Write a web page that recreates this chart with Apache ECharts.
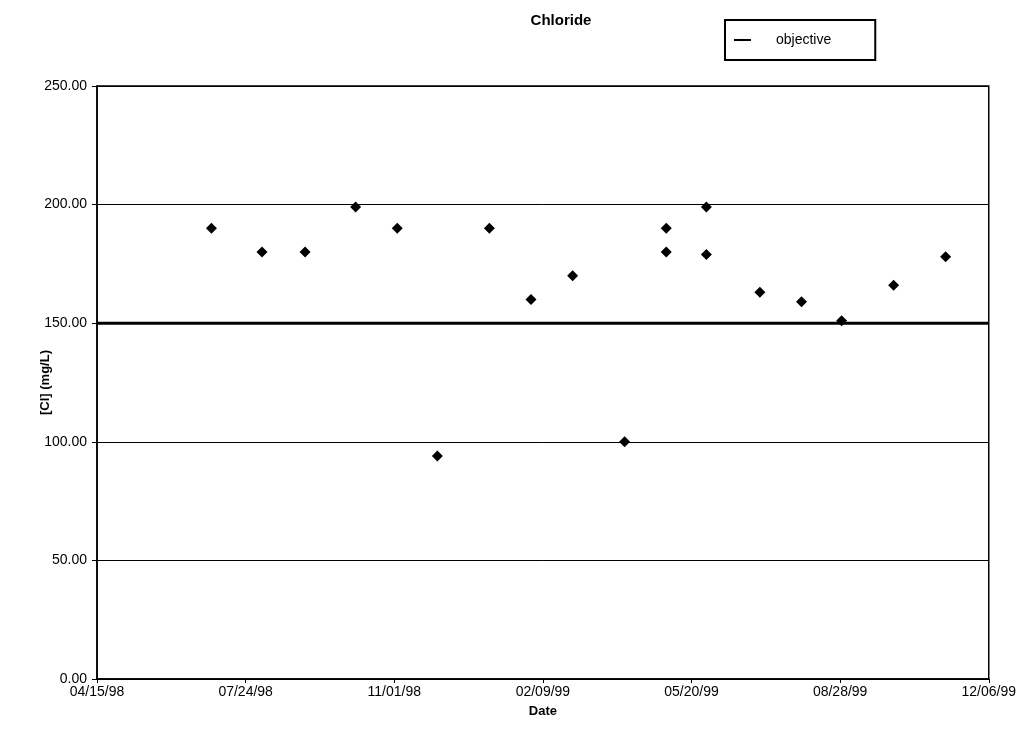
<!DOCTYPE html>
<html>
<head>
<meta charset="utf-8">
<title>Chloride</title>
<script src="https://cdn.jsdelivr.net/npm/echarts@6/dist/echarts.min.js"></script>
<style>
  html, body { margin: 0; padding: 0; background: #fff; }
  #chart { width: 1019px; height: 741px; }
</style>
</head>
<body>
<div id="chart"></div>
<script>
// Sampling dates (MM/DD/YY) and measured chloride concentrations (mg/L)
const sampleDates = [
  '07/01/98', '08/04/98', '09/02/98', '10/06/98', '11/03/98', '11/30/98',
  '01/04/99', '02/01/99', '03/01/99', '04/05/99', '05/03/99', '05/03/99',
  '05/30/99', '05/30/99', '07/05/99', '08/02/99', '08/29/99', '10/03/99',
  '11/07/99'
];
const chlorideValues = [
  190, 180, 180, 199, 190, 94,
  190, 160, 170, 100, 190, 180,
  199, 179, 163, 159, 151, 166,
  178
];

// Water-quality objective (mg/L)
const objectiveValue = 150;

// X axis: days counted from the first tick date, ticks every 100 days
const axisStartDate = '04/15/98';
const axisSpanDays = 600;
const tickStepDays = 100;

// Y axis range
const yMin = 0;
const yMax = 250;
const yStep = 50;

const DAY_MS = 86400000;
function parseDate(s) {
  const [m, d, y] = s.split('/').map(Number);
  return Date.UTC(1900 + (y < 50 ? y + 100 : y), m - 1, d);
}
const startMs = parseDate(axisStartDate);
function dayOffset(s) {
  return Math.round((parseDate(s) - startMs) / DAY_MS);
}
function pad(n) { return (n < 10 ? '0' : '') + n; }
function formatDay(v) {
  const dt = new Date(startMs + v * DAY_MS);
  return pad(dt.getUTCMonth() + 1) + '/' + pad(dt.getUTCDate()) + '/' +
    pad(dt.getUTCFullYear() % 100);
}

const points = sampleDates.map((d, i) => [dayOffset(d), chlorideValues[i]]);

const FONT = 'Liberation Sans, Arial, sans-serif';

const chart = echarts.init(document.getElementById('chart'), null, { renderer: 'canvas' });
chart.setOption({
  backgroundColor: '#ffffff',
  animation: false,
  title: {
    text: 'Chloride',
    left: 556,
    top: 8,
    textAlign: 'center',
    textStyle: { fontFamily: FONT, fontSize: 15, fontWeight: 'bold', color: '#000' }
  },
  legend: {
    data: [{ name: 'objective' }],
    left: 725,
    top: 20,
    orient: 'horizontal',
    padding: [13, 44, 13, 8],
    itemWidth: 17,
    itemHeight: 3,
    borderColor: '#000',
    borderWidth: 2,
    textStyle: { fontFamily: FONT, fontSize: 14, color: '#000', padding: [0, 0, 0, 20] }
  },
  grid: {
    left: 97,
    right: 30,
    top: 86,
    bottom: 62,
    show: true,
    borderColor: '#000',
    borderWidth: 1.5,
    backgroundColor: '#fff'
  },
  xAxis: {
    type: 'value',
    min: 0,
    max: axisSpanDays,
    interval: tickStepDays,
    name: 'Date',
    nameLocation: 'middle',
    nameGap: 26,
    nameMoveOverlap: false,
    nameTextStyle: { fontFamily: FONT, fontSize: 13, fontWeight: 'bold', color: '#000' },
    axisLine: { show: true, lineStyle: { color: '#000', width: 1.5 } },
    axisTick: { show: true, length: 4, lineStyle: { color: '#000' } },
    axisLabel: {
      fontFamily: FONT, fontSize: 14, color: '#000', margin: 6,
      formatter: v => formatDay(v)
    },
    splitLine: { show: false }
  },
  yAxis: {
    type: 'value',
    min: yMin,
    max: yMax,
    interval: yStep,
    name: '[Cl] (mg/L)',
    nameLocation: 'middle',
    nameRotate: 90,
    nameGap: 45,
    nameMoveOverlap: false,
    nameTextStyle: { fontFamily: FONT, fontSize: 13, fontWeight: 'bold', color: '#000' },
    axisLine: { show: true, lineStyle: { color: '#000', width: 1.5 } },
    axisTick: { show: true, length: 5, lineStyle: { color: '#000' } },
    axisLabel: {
      fontFamily: FONT, fontSize: 14, color: '#000', margin: 10,
      formatter: v => v.toFixed(2)
    },
    splitLine: { show: true, lineStyle: { color: '#000', width: 1 } }
  },
  series: [
    {
      name: 'objective',
      type: 'line',
      data: [[0, objectiveValue], [axisSpanDays, objectiveValue]],
      symbol: 'none',
      lineStyle: { color: '#000', width: 3 },
      itemStyle: { color: '#000' },
      z: 3
    },
    {
      name: 'Chloride',
      type: 'scatter',
      data: points,
      symbol: 'diamond',
      symbolSize: 11,
      itemStyle: { color: '#000', opacity: 1 },
      z: 4
    }
  ]
});
</script>
</body>
</html>
